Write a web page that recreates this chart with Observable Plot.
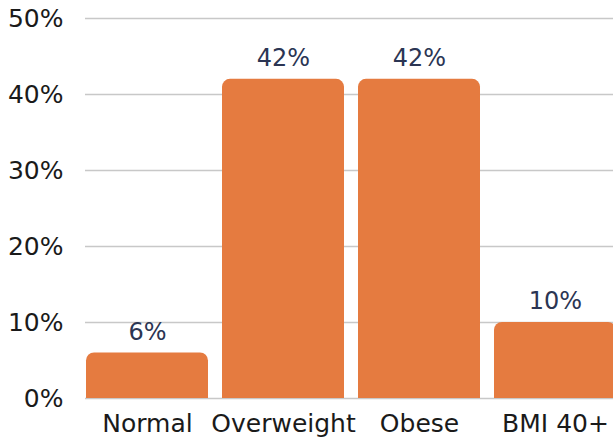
<!DOCTYPE html>
<html>
<head>
<meta charset="utf-8">
<script src="https://cdn.jsdelivr.net/npm/d3@7"></script>
<script src="https://cdn.jsdelivr.net/npm/@observablehq/plot@0.6"></script>
<style>
  html, body { margin: 0; padding: 0; background: #fff; overflow: hidden; }
  #chart { width: 613px; height: 439px; overflow: hidden; }
  #chart svg { max-width: none !important; }
</style>
</head>
<body>
<div id="chart"></div>
<script>
const categories = ["Normal", "Overweight", "Obese", "BMI 40+"];
const values = [6, 42, 42, 10];
const yTicks = [0, 10, 20, 30, 40, 50];

const data = categories.map((c, i) => ({category: c, value: values[i]}));

const chart = Plot.plot({
  width: 617,
  height: 439,
  marginLeft: 85,
  marginRight: 0,
  marginTop: 18,
  marginBottom: 41,
  style: {fontFamily: "DejaVu Sans", fontSize: "25px", color: "#1a1a1a", background: "#fff", overflow: "visible", maxWidth: "none"},
  x: {domain: categories, paddingInner: 0.1, paddingOuter: 0, label: null},
  y: {domain: [0, 50], ticks: yTicks, label: null},
  marks: [
    Plot.gridY(yTicks, {stroke: "#c8c8c8", strokeOpacity: 1, strokeWidth: 1.3}),
    Plot.axisY(yTicks, {tickSize: 0, tickPadding: 22, tickFormat: d => d + "%", fontSize: 25, fill: "#1a1a1a"}),
    Plot.axisX({tickSize: 0, tickPadding: 16, fontSize: 25, fill: "#1a1a1a"}),
    Plot.barY(data, {x: "category", y1: -3, y2: "value", fill: "#E57B40", rx: 8, inset: 0, clip: "frame"}),
    Plot.text(data, {x: "category", y: "value", text: d => d.value + "%", dy: -21, fill: "#2b3553", fontSize: 24})
  ]
});
document.getElementById("chart").appendChild(chart);
</script>
</body>
</html>
